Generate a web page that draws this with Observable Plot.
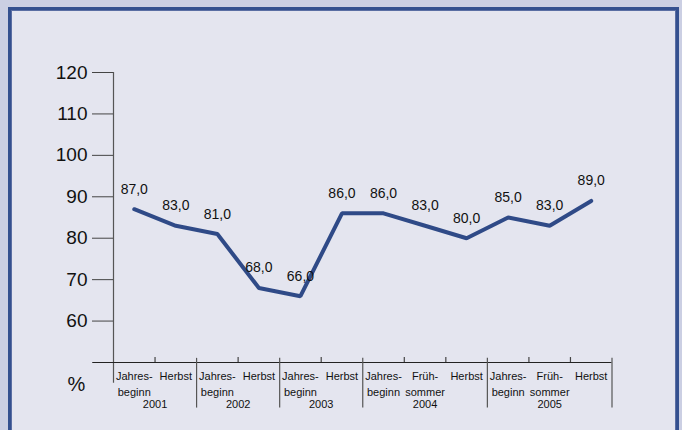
<!DOCTYPE html>
<html>
<head>
<meta charset="utf-8">
<script src="https://cdn.jsdelivr.net/npm/d3@7"></script>
<script src="https://cdn.jsdelivr.net/npm/@observablehq/plot@0.6"></script>
<style>
  html, body { margin: 0; padding: 0; background: #cbcfe3; overflow: hidden; }
  #wrap { position: relative; width: 682px; height: 430px; }
  #frame { position: absolute; left: 8px; top: 7px; width: 665px; height: 440px;
           background: #e4e5ef; border: 3px solid #34508f; box-shadow: inset 0 0 0 1px #5a6ea3; }
  #chart { position: absolute; left: 0; top: 0; }
  #chart svg { background: transparent; }
</style>
</head>
<body>
<div id="wrap"><div id="frame"></div><div id="chart"></div></div>
<script>
const periods = ["Jahres-\nbeginn","Herbst","Jahres-\nbeginn","Herbst","Jahres-\nbeginn","Herbst",
                 "Jahres-\nbeginn","Früh-\nsommer","Herbst","Jahres-\nbeginn","Früh-\nsommer","Herbst"];
const values = [87, 83, 81, 68, 66, 86, 86, 83, 80, 85, 83, 89];
const years = ["2001", "2002", "2003", "2004", "2005"];
const yearSizes = [2, 2, 2, 3, 3];
const yTicks = [60, 70, 80, 90, 100, 110, 120];

const pts = values.map((v, i) => ({i: i + 0.5, v, label: periods[i], text: v.toFixed(1).replace(".", ",")}));
let acc = 0;
const yearBounds = [0];
const yearRows = years.map((y, k) => {
  const start = acc; acc += yearSizes[k]; yearBounds.push(acc);
  return {year: y, mid: (start + acc) / 2};
});
const innerBounds = d3.range(1, values.length).filter(b => !yearBounds.includes(b));

const plot = Plot.plot({
  width: 682, height: 430,
  marginLeft: 113, marginRight: 70.5, marginTop: 72, marginBottom: 68,
  style: {background: "transparent", fontFamily: "Liberation Sans, Arial, sans-serif", overflow: "visible"},
  x: {type: "linear", domain: [0, values.length], axis: null},
  y: {domain: [50, 120], axis: null},
  marks: [
    Plot.axisY({ticks: yTicks, tickSize: 21, tickPadding: 5, fontSize: 19, stroke: "#444", color: "#111", tickFormat: d => d, label: null}),
    Plot.ruleX([0], {y1: 120, y2: 45, stroke: "#555", strokeWidth: 1.2}),
    Plot.ruleY([50], {x1: -0.5, x2: values.length, stroke: "#222", strokeWidth: 1.2}),
    Plot.ruleX(yearBounds.slice(1), {y1: 51, y2: 39, stroke: "#555", strokeWidth: 1.2}),
    Plot.ruleX(innerBounds, {y1: 51.2, y2: 50, stroke: "#444", strokeWidth: 1.2}),
    Plot.text(pts, {x: "i", text: "label", frameAnchor: "bottom", lineAnchor: "top", dy: 6, fontSize: 11, lineHeight: 1.45, fill: "#111"}),
    Plot.text(yearRows, {x: "mid", text: "year", frameAnchor: "bottom", dy: 45, fontSize: 11, fill: "#111"}),
    Plot.text(["%"], {frameAnchor: "bottom-left", textAnchor: "middle", lineAnchor: "middle", dx: -37, dy: 22, fontSize: 20, fill: "#111"}),
    Plot.line(pts, {x: "i", y: "v", stroke: "#2f4a87", strokeWidth: 4, strokeLinejoin: "miter", curve: "linear"}),
    Plot.text(pts, {x: "i", y: "v", text: "text", dy: -20, fontSize: 14, fill: "#111"})
  ]
});
document.getElementById("chart").appendChild(plot);
</script>
</body>
</html>
